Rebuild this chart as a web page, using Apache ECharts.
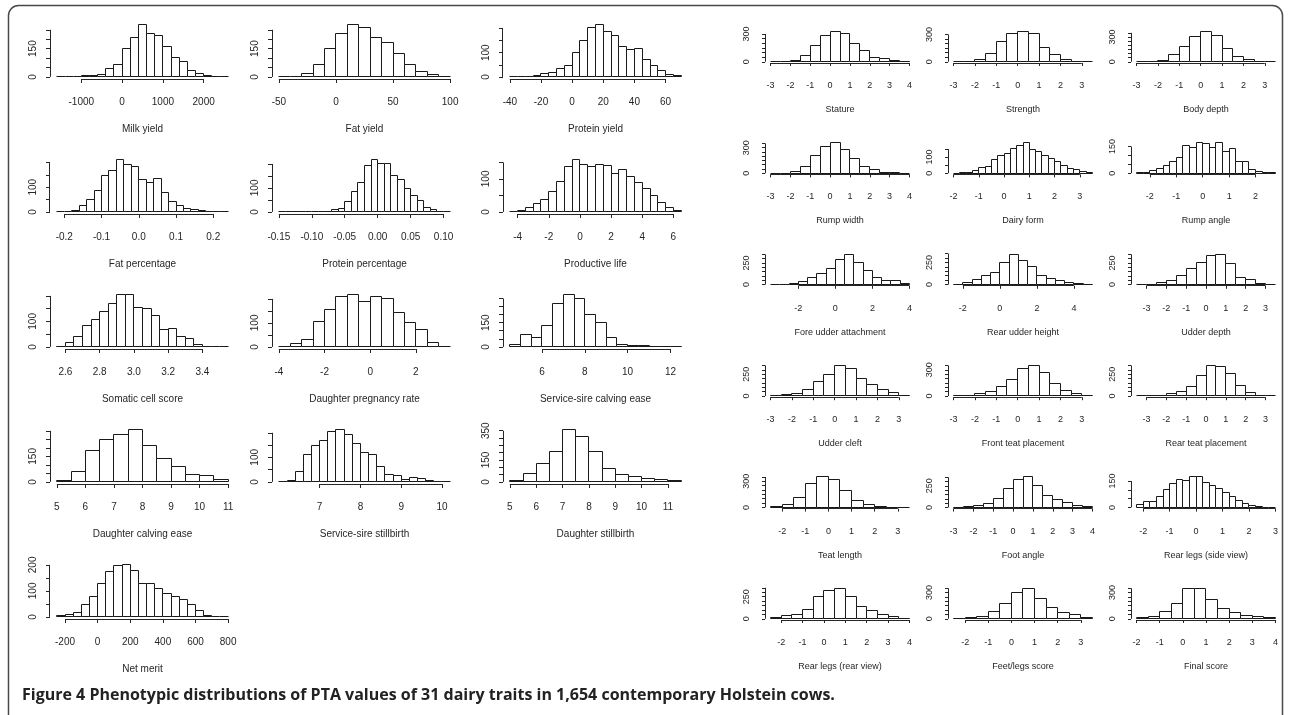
<!DOCTYPE html>
<html>
<head>
<meta charset="utf-8">
<script src="https://cdn.jsdelivr.net/npm/echarts@6/dist/echarts.min.js"></script>
<style>
  html, body { margin: 0; padding: 0; background: #ffffff; }
  #chart { width: 1290px; height: 715px; }
</style>
</head>
<body>
<div id="chart"></div>
<script>
// Histogram counts of PTA values per trait. Each trait: first break, bin width,
// bin counts, x tick values, y tick values and the y ticks that carry a label.

// ---- production / fitness traits ----
const milkYield = { title: 'Milk yield', from: -1600, step: 200,
  counts: [0, 0, 0, 5, 9, 12, 43, 66, 150, 210, 280, 230, 220, 160, 102, 84, 36, 16, 7, 2, 0],
  xTicks: [-1000, 0, 1000, 2000], yTicks: [0, 50, 100, 150, 200, 250], yLabels: [0, 150] };
const fatYield = { title: 'Fat yield', from: -50, step: 10,
  counts: [0, 0, 16, 64, 150, 230, 280, 262, 209, 182, 125, 66, 27, 12, 0],
  xTicks: [-50, 0, 50, 100], yTicks: [0, 50, 100, 150, 200, 250], yLabels: [0, 150] };
const proteinYield = { title: 'Protein yield', from: -40, step: 5,
  counts: [0, 0, 2, 5, 12, 20, 33, 47, 100, 151, 204, 218, 186, 172, 125, 114, 117, 72, 48, 25, 10, 4],
  xTicks: [-40, -20, 0, 20, 40, 60], yTicks: [0, 50, 100, 150, 200], yLabels: [0, 100] };
const fatPercentage = { title: 'Fat percentage', from: -0.22, step: 0.02, digits: 1,
  counts: [0, 0, 7, 25, 49, 86, 149, 169, 214, 194, 186, 131, 118, 135, 79, 42, 24, 14, 8, 4, 2, 1, 0],
  xTicks: [-0.2, -0.1, 0, 0.1, 0.2], yTicks: [0, 50, 100, 150, 200], yLabels: [0, 100] };
const proteinPercentage = { title: 'Protein percentage', from: -0.15, step: 0.01, digits: 2,
  counts: [0, 0, 2, 2, 0, 0, 3, 3, 8, 15, 42, 86, 121, 194, 220, 200, 200, 151, 137, 97, 68, 47, 19, 8, 3, 0],
  xTicks: [-0.15, -0.10, -0.05, 0, 0.05, 0.10], yTicks: [0, 50, 100, 150, 200], yLabels: [0, 100] };
const productiveLife = { title: 'Productive life', from: -4.5, step: 0.5,
  counts: [0, 5, 13, 24, 39, 62, 91, 139, 160, 145, 137, 144, 142, 116, 127, 106, 89, 72, 50, 28, 12, 5],
  xTicks: [-4, -2, 0, 2, 4, 6], yTicks: [0, 50, 100, 150], yLabels: [0, 100] };
const somaticCellScore = { title: 'Somatic cell score', from: 2.55, step: 0.05, digits: 1,
  counts: [2, 19, 41, 84, 109, 139, 169, 207, 207, 155, 150, 122, 67, 71, 41, 33, 10, 3, 0, 0],
  xTicks: [2.6, 2.8, 3.0, 3.2, 3.4], yTicks: [0, 50, 100, 150, 200], yLabels: [0, 100] };
const daughterPregnancyRate = { title: 'Daughter pregnancy rate', from: -4, step: 0.5,
  counts: [0, 13, 31, 106, 157, 210, 220, 191, 210, 203, 143, 100, 74, 17, 0],
  xTicks: [-4, -2, 0, 2], yTicks: [0, 50, 100, 150, 200], yLabels: [0, 100] };
const serviceSireCalvingEase = { title: 'Service-sire calving ease', from: 4.5, step: 0.5,
  counts: [15, 78, 60, 133, 267, 327, 300, 200, 149, 56, 16, 7, 7, 5, 3, 2],
  xTicks: [6, 8, 10, 12], yTicks: [0, 50, 100, 150, 200, 250, 300], yLabels: [0, 150] };
const daughterCalvingEase = { title: 'Daughter calving ease', from: 5, step: 0.5,
  counts: [6, 60, 182, 250, 276, 310, 216, 136, 90, 46, 36, 12],
  xTicks: [5, 6, 7, 8, 9, 10, 11], yTicks: [0, 50, 100, 150, 200, 250, 300], yLabels: [0, 150] };
const serviceSireStillbirth = { title: 'Service-sire stillbirth', from: 6.0, step: 0.2,
  counts: [0, 4, 42, 112, 150, 168, 206, 215, 192, 157, 118, 112, 62, 32, 28, 11, 18, 12, 7, 3, 0],
  xTicks: [7, 8, 9, 10], yTicks: [0, 50, 100, 150, 200], yLabels: [0, 100] };
const daughterStillbirth = { title: 'Daughter stillbirth', from: 5, step: 0.5,
  counts: [12, 54, 125, 207, 361, 310, 207, 95, 49, 36, 25, 15, 8],
  xTicks: [5, 6, 7, 8, 9, 10, 11], yTicks: [0, 50, 100, 150, 200, 250, 300, 350], yLabels: [0, 150, 350] };
const netMerit = { title: 'Net merit', from: -250, step: 50,
  counts: [4, 10, 17, 47, 78, 127, 173, 196, 203, 177, 130, 130, 110, 91, 78, 65, 47, 23, 6, 0, 0],
  xTicks: [-200, 0, 200, 400, 600, 800], yTicks: [0, 50, 100, 150, 200], yLabels: [0, 100, 200] };

// ---- type traits ----
const TICKS_300 = [0, 50, 100, 150, 200, 250, 300];
const TICKS_350 = [0, 50, 100, 150, 200, 250, 300, 350];
const TICKS_150 = [0, 50, 100, 150];
const stature = { title: 'Stature', from: -3, step: 0.5,
  counts: [0, 0, 16, 66, 176, 285, 330, 301, 195, 117, 47, 35, 12, 4],
  xTicks: [-3, -2, -1, 0, 1, 2, 3, 4], yTicks: TICKS_300, yLabels: [0, 300] };
const strength = { title: 'Strength', from: -3, step: 0.5,
  counts: [0, 3, 27, 90, 222, 312, 335, 312, 156, 78, 27, 8, 0],
  xTicks: [-3, -2, -1, 0, 1, 2, 3], yTicks: TICKS_300, yLabels: [0, 300] };
const bodyDepth = { title: 'Body depth', from: -3, step: 0.5,
  counts: [0, 3, 14, 85, 180, 310, 370, 320, 165, 65, 33, 5, 0],
  xTicks: [-3, -2, -1, 0, 1, 2, 3], yTicks: TICKS_350, yLabels: [0, 300] };
const rumpWidth = { title: 'Rump width', from: -3, step: 0.5,
  counts: [0, 0, 16, 78, 203, 312, 359, 281, 168, 78, 39, 12, 4, 0],
  xTicks: [-3, -2, -1, 0, 1, 2, 3, 4], yTicks: TICKS_350, yLabels: [0, 300] };
const dairyForm = { title: 'Dairy form', from: -2, step: 0.25,
  counts: [0, 3, 7, 17, 33, 42, 83, 112, 125, 155, 172, 190, 150, 137, 108, 92, 70, 47, 30, 22, 8, 3],
  xTicks: [-2, -1, 0, 1, 2, 3], yTicks: TICKS_150, yLabels: [0, 100] };
const rumpAngle = { title: 'Rump angle', from: -2.5, step: 0.25,
  counts: [3, 6, 15, 29, 44, 63, 90, 153, 144, 172, 169, 147, 172, 124, 138, 67, 63, 23, 9, 2, 3],
  xTicks: [-2, -1, 0, 1, 2], yTicks: TICKS_150, yLabels: [0, 150] };
const foreUdderAttachment = { title: 'Fore udder attachment', from: -3.5, step: 0.5,
  counts: [0, 0, 12, 38, 77, 127, 192, 296, 354, 250, 165, 77, 50, 50, 12],
  xTicks: [-2, 0, 2, 4], yTicks: TICKS_350, yLabels: [0, 250] };
const rearUdderHeight = { title: 'Rear udder height', from: -2.5, step: 0.5,
  counts: [5, 25, 53, 106, 142, 248, 345, 276, 205, 106, 71, 46, 25, 11, 4],
  xTicks: [-2, 0, 2, 4], yTicks: TICKS_350, yLabels: [0, 250] };
const udderDepth = { title: 'Udder depth', from: -3.5, step: 0.5,
  counts: [0, 4, 19, 46, 104, 181, 258, 335, 354, 242, 85, 58, 12, 0],
  xTicks: [-3, -2, -1, 0, 1, 2, 3], yTicks: TICKS_350, yLabels: [0, 250] };
const udderCleft = { title: 'Udder cleft', from: -3, step: 0.5,
  counts: [8, 15, 23, 79, 169, 248, 350, 312, 199, 132, 79, 41, 8],
  xTicks: [-3, -2, -1, 0, 1, 2, 3], yTicks: TICKS_350, yLabels: [0, 250] };
const frontTeatPlacement = { title: 'Front teat placement', from: -3, step: 0.5,
  counts: [2, 8, 23, 49, 105, 188, 312, 350, 274, 143, 68, 23, 8],
  xTicks: [-3, -2, -1, 0, 1, 2, 3], yTicks: TICKS_350, yLabels: [0, 300] };
const rearTeatPlacement = { title: 'Rear teat placement', from: -3.5, step: 0.5,
  counts: [0, 4, 11, 30, 56, 113, 237, 350, 338, 256, 124, 41, 11, 0],
  xTicks: [-3, -2, -1, 0, 1, 2, 3], yTicks: TICKS_350, yLabels: [0, 250] };
const teatLength = { title: 'Teat length', from: -2.5, step: 0.5,
  counts: [11, 37, 111, 270, 352, 322, 193, 81, 30, 11, 3, 0],
  xTicks: [-2, -1, 0, 1, 2, 3], yTicks: TICKS_350, yLabels: [0, 300] };
const footAngle = { title: 'Foot angle', from: -3, step: 0.5,
  counts: [3, 11, 25, 45, 100, 222, 320, 355, 250, 141, 93, 52, 20, 8],
  xTicks: [-3, -2, -1, 0, 1, 2, 3, 4], yTicks: TICKS_350, yLabels: [0, 250] };
const rearLegsSideView = { title: 'Rear legs (side view)', from: -2.25, step: 0.25,
  counts: [14, 31, 36, 64, 101, 134, 156, 151, 174, 174, 141, 124, 105, 83, 61, 41, 22, 9, 3, 0, 0],
  xTicks: [-2, -1, 0, 1, 2, 3], yTicks: TICKS_150, yLabels: [0, 150] };
const rearLegsRearView = { title: 'Rear legs (rear view)', from: -2.5, step: 0.5,
  counts: [10, 36, 46, 106, 247, 318, 345, 247, 141, 99, 46, 22, 8],
  xTicks: [-2, -1, 0, 1, 2, 3, 4], yTicks: TICKS_350, yLabels: [0, 250] };
const feetLegsScore = { title: 'Feet/legs score', from: -2.5, step: 0.5,
  counts: [8, 19, 30, 86, 173, 300, 350, 237, 124, 75, 49, 11],
  xTicks: [-2, -1, 0, 1, 2, 3], yTicks: TICKS_350, yLabels: [0, 300] };
const finalScore = { title: 'Final score', from: -2, step: 0.5,
  counts: [11, 30, 79, 173, 350, 350, 226, 113, 75, 41, 30, 19],
  xTicks: [-2, -1, 0, 1, 2, 3, 4], yTicks: TICKS_350, yLabels: [0, 300] };

const leftRows = [
  [milkYield, fatYield, proteinYield],
  [fatPercentage, proteinPercentage, productiveLife],
  [somaticCellScore, daughterPregnancyRate, serviceSireCalvingEase],
  [daughterCalvingEase, serviceSireStillbirth, daughterStillbirth],
  [netMerit]
];
const rightRows = [
  [stature, strength, bodyDepth],
  [rumpWidth, dairyForm, rumpAngle],
  [foreUdderAttachment, rearUdderHeight, udderDepth],
  [udderCleft, frontTeatPlacement, rearTeatPlacement],
  [teatLength, footAngle, rearLegsSideView],
  [rearLegsRearView, feetLegsScore, finalScore]
];

const captionText = 'Figure 4 Phenotypic distributions of PTA values of 31 dairy traits in 1,654 contemporary Holstein cows.';

// ---- layout of the two panel blocks ----
const FONT = '"Liberation Sans", Arial, sans-serif';
const INK = '#262626';
const leftLayout = { cols: [50, 272, 503], top: 22, rowStep: 135, width: 185, height: 57,
  fontSize: 10, labelMargin: 18, nameGap: 45, yLabelMargin: 12, tick: 4 };
const rightLayout = { cols: [765, 948, 1131], top: 30, rowStep: 111.4, width: 150, height: 33,
  fontSize: 9, labelMargin: 18, nameGap: 42, yLabelMargin: 14, tick: 3 };

const grids = [], xAxes = [], yAxes = [], series = [];

function round(v) { return Math.round(v * 1e6) / 1e6; }
// put 1px strokes on pixel centres so the thin R-style lines stay crisp
function crisp(v) { return Math.round(v - 0.5) + 0.5; }

function barItem(params, api) {
  const c = api.value(2);
  const a = api.coord([api.value(0), c]);
  const b = api.coord([api.value(1), 0]);
  const x0 = crisp(a[0]), x1 = crisp(b[0]), y0 = crisp(a[1]), y1 = crisp(b[1]);
  if (c === 0) {
    return { type: 'line', shape: { x1: x0, y1: y1, x2: x1, y2: y1 },
      style: { stroke: '#1a1a1a', lineWidth: 1 } };
  }
  return { type: 'rect', shape: { x: x0, y: y0, width: x1 - x0, height: y1 - y0 },
    style: { fill: '#ffffff', stroke: '#1a1a1a', lineWidth: 1 } };
}

function addPanel(t, lay, left, top) {
  const i = grids.length;
  const lo = t.from, hi = round(t.from + t.counts.length * t.step);
  const xPad = 0.04 * (hi - lo);
  const xMin = lo - xPad, xMax = hi + xPad;
  const yTop = Math.max.apply(null, t.counts);
  const yMin = -0.04 * yTop, yMax = 1.04 * yTop;
  const digits = t.digits || 0;

  grids.push({ left: left, top: top, width: lay.width, height: lay.height });
  xAxes.push({
    type: 'value', gridIndex: i, min: xMin, max: xMax, position: 'bottom',
    axisLine: { show: false, onZero: false }, splitLine: { show: false },
    axisTick: { show: true, customValues: t.xTicks, length: lay.tick, lineStyle: { color: INK, width: 1 } },
    axisLabel: { customValues: t.xTicks, margin: lay.labelMargin, fontSize: lay.fontSize,
      fontFamily: FONT, color: INK, formatter: v => Number(v).toFixed(digits) },
    name: t.title, nameLocation: 'middle', nameGap: lay.nameGap,
    nameTextStyle: { fontSize: lay.fontSize, fontFamily: FONT, color: INK }
  });
  yAxes.push({
    type: 'value', gridIndex: i, min: yMin, max: yMax, position: 'left',
    axisLine: { show: false, onZero: false }, splitLine: { show: false },
    axisTick: { show: true, customValues: t.yTicks, length: lay.tick, lineStyle: { color: INK, width: 1 } },
    axisLabel: { customValues: t.yLabels, rotate: 90, margin: lay.yLabelMargin, fontSize: lay.fontSize,
      fontFamily: FONT, color: INK }
  });

  const bars = t.counts.map((c, k) => [round(lo + k * t.step), round(lo + (k + 1) * t.step), c]);
  series.push({
    type: 'custom', xAxisIndex: i, yAxisIndex: i, silent: true,
    encode: { x: [0, 1], y: 2 },
    renderItem: barItem, data: bars
  });

  // R-style axis lines: x from first to last tick, y from 0 to the top tick
  const xt = t.xTicks, yt = t.yTicks;
  series.push({
    type: 'custom', xAxisIndex: i, yAxisIndex: i, silent: true,
    renderItem: function (params, api) {
      const a = api.coord([xt[0], yMin]), b = api.coord([xt[xt.length - 1], yMin]);
      const c = api.coord([xMin, yt[0]]), d = api.coord([xMin, yt[yt.length - 1]]);
      const st = { stroke: INK, lineWidth: 1 };
      return { type: 'group', children: [
        { type: 'line', shape: { x1: a[0], y1: crisp(a[1]), x2: b[0], y2: crisp(b[1]) }, style: st },
        { type: 'line', shape: { x1: crisp(c[0]), y1: c[1], x2: crisp(d[0]), y2: d[1] }, style: st }
      ] };
    },
    data: [[xMin, yMin]]
  });
}

leftRows.forEach((row, r) => row.forEach((t, c) =>
  addPanel(t, leftLayout, leftLayout.cols[c], leftLayout.top + r * leftLayout.rowStep)));
rightRows.forEach((row, r) => row.forEach((t, c) =>
  addPanel(t, rightLayout, rightLayout.cols[c], rightLayout.top + r * rightLayout.rowStep)));

const chart = echarts.init(document.getElementById('chart'), null, { renderer: 'canvas' });
chart.setOption({
  animation: false,
  backgroundColor: '#ffffff',
  grid: grids, xAxis: xAxes, yAxis: yAxes, series: series,
  graphic: [
    { type: 'rect', silent: true,
      shape: { x: 8.5, y: 5.5, width: 1274, height: 730, r: [10, 10, 0, 0] },
      style: { fill: 'transparent', stroke: '#4a4a4a', lineWidth: 1.5 } },
    { type: 'text', left: 22, top: 687, silent: true,
      style: { text: captionText, fill: '#222222', font: 'bold 16px "Open Sans", sans-serif' } }
  ]
});
</script>
</body>
</html>
